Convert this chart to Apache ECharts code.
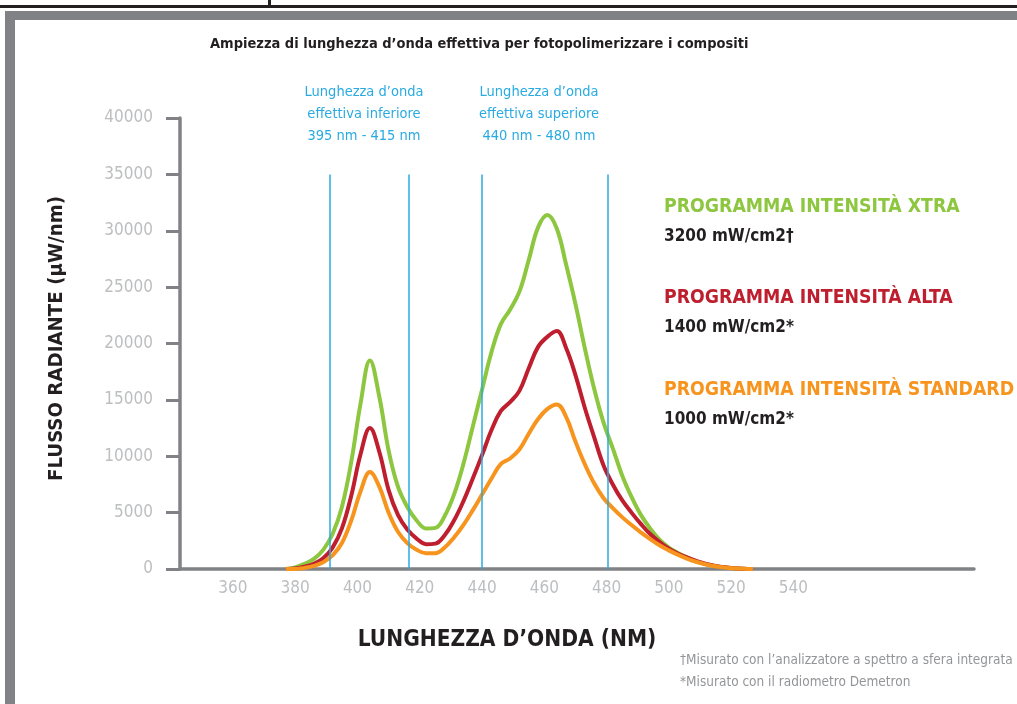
<!DOCTYPE html>
<html>
<head>
<meta charset="utf-8">
<script src="https://cdn.jsdelivr.net/npm/echarts@6/dist/echarts.min.js"></script>
<style>
  html, body { margin: 0; padding: 0; background: #fff; }
  #chart { width: 1017px; height: 704px; }
</style>
</head>
<body>
<div id="chart"></div>
<script>
var FONT = "'Liberation Sans Narrow', 'DejaVu Sans Condensed', sans-serif";

// wavelengths (nm) shared by the three curves
var wavelengths = [377, 380, 383, 386, 389, 392, 395, 398, 401, 404, 407, 410, 413, 416, 419, 422, 425,
  428, 431, 434, 437, 440, 443, 446, 449, 452, 455, 458, 461, 464, 467, 470, 473, 476, 479, 482, 485,
  488, 491, 494, 497, 500, 503, 506, 509, 512, 515, 518, 521, 524, 527];

// radiant flux (µW/nm)
var xtra = [0, 150, 450, 900, 1700, 3100, 5500, 9500, 14700, 18500, 15300, 10500, 7300, 5500, 4300, 3600, 3650,
  4700, 6600, 9300, 12600, 15900, 19200, 21700, 23000, 24600, 27400, 30300, 31400, 30200, 27000, 23500, 19600, 16000, 13000, 10700, 8300,
  6400, 4800, 3600, 2600, 1900, 1400, 1000, 650, 420, 250, 140, 60, 20, 0];
var alta = [0, 50, 200, 450, 950, 1900, 3600, 6500, 10200, 12500, 10400, 7000, 4800, 3500, 2700, 2200, 2250,
  3000, 4300, 6000, 8000, 10100, 12300, 14000, 14800, 15800, 17800, 19700, 20600, 21100, 19600, 17200, 14300, 11700, 9200, 7500, 6100,
  5000, 4000, 3100, 2400, 1800, 1350, 1000, 700, 450, 270, 150, 70, 20, 0];
var standard = [0, 0, 100, 280, 600, 1200, 2300, 4300, 6900, 8600, 7300, 5000, 3300, 2300, 1700, 1400, 1400,
  1900, 2800, 3900, 5200, 6600, 8000, 9300, 9800, 10600, 12000, 13300, 14200, 14600, 13500, 11300, 9300, 7600, 6300, 5400, 4600,
  3900, 3250, 2650, 2100, 1650, 1250, 900, 620, 400, 240, 130, 60, 20, 0];

var xTicks = [360, 380, 400, 420, 440, 460, 480, 500, 520, 540];
var bandLines = [391, 416.5, 440, 480.3];
var bandTop = 35000;

var programNames = ['PROGRAMMA INTENSITÀ XTRA', 'PROGRAMMA INTENSITÀ ALTA', 'PROGRAMMA INTENSITÀ STANDARD'];
var programPower = ['3200 mW/cm2†', '1400 mW/cm2*', '1000 mW/cm2*'];
var colors = ['#8dc63f', '#be1e2d', '#f7941d'];

function pairs(vals) {
  return wavelengths.map(function (w, i) { return [w, vals[i]]; });
}

var chart = echarts.init(document.getElementById('chart'));

var graphics = [
  // frame
  { type: 'rect', shape: { x: 0, y: 5, width: 1017, height: 3 }, style: { fill: '#231f20' } },
  { type: 'rect', shape: { x: 268, y: 0, width: 3, height: 6 }, style: { fill: '#231f20' } },
  { type: 'rect', shape: { x: 5, y: 11, width: 1012, height: 9 }, style: { fill: '#808285' } },
  { type: 'rect', shape: { x: 5, y: 11, width: 10, height: 693 }, style: { fill: '#808285' } },
  // title
  { type: 'text', x: 210, y: 44, style: { text: 'Ampiezza di lunghezza d’onda effettiva per fotopolimerizzare i compositi',
      fill: '#231f20', fontFamily: FONT, fontWeight: 'bold', fontSize: 14.5, verticalAlign: 'middle' } },
  // band captions
  { type: 'text', x: 364, y: 114, style: { text: 'Lunghezza d’onda\neffettiva inferiore\n395 nm - 415 nm',
      fill: '#29abe2', fontFamily: FONT, fontSize: 14.5, lineHeight: 22, align: 'center', verticalAlign: 'middle' } },
  { type: 'text', x: 539, y: 114, style: { text: 'Lunghezza d’onda\neffettiva superiore\n440 nm - 480 nm',
      fill: '#29abe2', fontFamily: FONT, fontSize: 14.5, lineHeight: 22, align: 'center', verticalAlign: 'middle' } },
  // x axis name
  { type: 'text', x: 507, y: 640, style: { text: 'LUNGHEZZA D’ONDA (NM)',
      fill: '#231f20', fontFamily: FONT, fontWeight: 'bold', fontSize: 22.5, align: 'center', verticalAlign: 'middle' } },
  // footnotes
  { type: 'text', x: 680, y: 660, style: { text: '†Misurato con l’analizzatore a spettro a sfera integrata',
      fill: '#939598', fontFamily: FONT, fontSize: 13.5, verticalAlign: 'middle' } },
  { type: 'text', x: 680, y: 682, style: { text: '*Misurato con il radiometro Demetron',
      fill: '#939598', fontFamily: FONT, fontSize: 13.5, verticalAlign: 'middle' } }
];

// legend block on the right
var legendY = [207, 298, 390];
programNames.forEach(function (name, i) {
  graphics.push({ type: 'text', x: 664, y: legendY[i], style: { text: name, fill: colors[i],
      fontFamily: FONT, fontWeight: 'bold', fontSize: 19.3, verticalAlign: 'middle' } });
  graphics.push({ type: 'text', x: 664, y: legendY[i] + 30, style: { text: programPower[i], fill: '#231f20',
      fontFamily: FONT, fontWeight: 'bold', fontSize: 17, verticalAlign: 'middle' } });
});

var option = {
  backgroundColor: '#fff',
  animation: false,
  grid: { left: 180, right: 43, top: 118, bottom: 135, outerBoundsMode: 'none' },
  xAxis: {
    type: 'value', min: 343, max: 598,
    axisLine: { lineStyle: { color: '#808285', width: 3.5 } },
    axisTick: { show: false },
    splitLine: { show: false },
    axisLabel: { customValues: xTicks, color: '#bcbec0', fontFamily: FONT, fontSize: 17, margin: 11 }
  },
  yAxis: {
    type: 'value', min: 0, max: 40000, interval: 5000,
    name: 'FLUSSO RADIANTE (µW/nm)', nameLocation: 'middle', nameGap: 113, nameRotate: 90,
    nameTextStyle: { color: '#231f20', fontFamily: FONT, fontWeight: 'bold', fontSize: 20.3, padding: [0, 0, 0, 10] },
    axisLine: { show: true, lineStyle: { color: '#808285', width: 3.5 } },
    axisTick: { show: true, length: 14, lineStyle: { color: '#808285', width: 3 } },
    splitLine: { show: false },
    axisLabel: { color: '#bcbec0', fontFamily: FONT, fontSize: 17, margin: 27,
      formatter: function (v) { return String(v); } }
  },
  graphic: graphics,
  series: [
    {
      name: programNames[0], type: 'line', data: pairs(xtra), smooth: 0.4, showSymbol: false,
      lineStyle: { color: colors[0], width: 4 }, itemStyle: { color: colors[0] },
      markLine: {
        silent: true, symbol: 'none', label: { show: false },
        lineStyle: { color: '#29abe2', width: 1.5, type: 'solid' },
        data: bandLines.map(function (b) { return [{ coord: [b, 0] }, { coord: [b, bandTop] }]; })
      }
    },
    {
      name: programNames[1], type: 'line', data: pairs(alta), smooth: 0.4, showSymbol: false,
      lineStyle: { color: colors[1], width: 4 }, itemStyle: { color: colors[1] }
    },
    {
      name: programNames[2], type: 'line', data: pairs(standard), smooth: 0.4, showSymbol: false,
      lineStyle: { color: colors[2], width: 4 }, itemStyle: { color: colors[2] }
    }
  ]
};

chart.setOption(option);
</script>
</body>
</html>
